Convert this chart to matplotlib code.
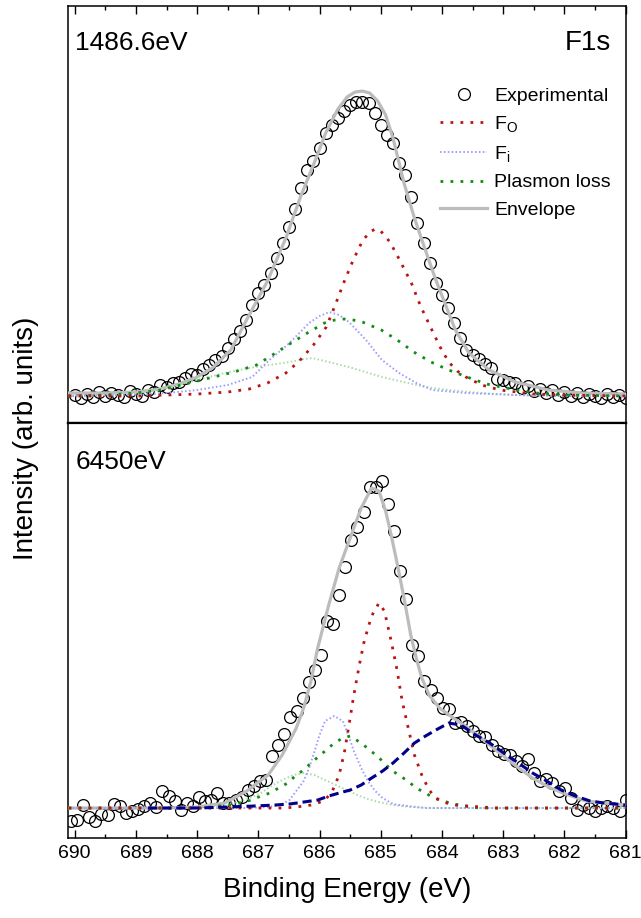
import numpy as np
import matplotlib
matplotlib.use("Agg")
import matplotlib.pyplot as plt
from matplotlib.ticker import MultipleLocator

plt.rcParams['font.family'] = ['Liberation Sans', 'DejaVu Sans']
plt.rcParams['mathtext.fontset'] = 'custom'
plt.rcParams['mathtext.rm'] = 'Liberation Sans'
plt.rcParams['mathtext.it'] = 'Liberation Sans:italic'

# ---------------- 1486.6 eV (top panel) ----------------
top_exp_E = np.linspace(690.0, 681.0, 91)
top_exp_I = [28, 25, 29, 26, 31, 27, 30, 28, 26, 32,
             29, 27, 33, 31, 38, 36, 40, 41, 45, 49,
             48, 54, 58, 63, 67, 75, 84, 92, 103, 118,
             130, 138, 150, 165, 180, 196, 214, 235, 253, 262,
             275, 290, 298, 305, 312, 318, 321, 321, 320, 310,
             298, 288, 280, 260, 248, 226, 200, 180, 160, 140,
             128, 115, 100, 85, 73, 68, 64, 59, 55, 44,
             43, 41, 40, 35, 37, 32, 34, 30, 33, 28,
             31, 27, 30, 26, 29, 27, 25, 29, 26, 28, 25]

top_env_E = [690.1, 689.5, 689.0, 688.6, 688.3, 688.0, 687.75, 687.45, 687.15, 686.85,
             686.55, 686.3, 686.1, 685.9, 685.7, 685.55, 685.42, 685.3, 685.18, 685.05,
             684.92, 684.8, 684.62, 684.45, 684.3, 684.1, 683.89, 683.78, 683.56, 683.23,
             682.8, 682.26, 681.7, 681.0]
top_env_I = [30, 30, 31, 34, 39, 46, 55, 73, 108, 142,
             185, 228, 258, 290, 314, 326, 331, 332, 330, 322,
             308, 285, 240, 205, 178, 143, 110, 93, 70, 53,
             41, 33, 30, 29]

top_fo_E = [690.1, 689.0, 688.5, 688.0, 687.5, 687.15, 686.85, 686.55, 686.33, 686.1,
            685.89, 685.75, 685.6, 685.45, 685.3, 685.18, 685.09, 685.0, 684.85, 684.7,
            684.5, 684.35, 684.18, 684.03, 683.89, 683.75, 683.61, 683.35, 683.05, 682.5,
            682.0, 681.0]
top_fo_I = [27, 27, 28, 29, 31, 34, 40, 50, 62, 78,
            96, 117, 141, 163, 182, 191, 194, 192, 181, 164,
            140, 117, 95, 76, 61, 52, 46, 38, 33, 29,
            28, 27]

top_fi_E = [690.1, 689.0, 688.5, 688.0, 687.5, 687.1, 686.82, 686.49, 686.17, 686.0,
            685.84, 685.68, 685.52, 685.24, 684.98, 684.7, 684.42, 684.16, 683.61, 682.79,
            682.0, 681.0]
top_fi_I = [27, 28, 30, 33, 38, 46, 63, 80, 100, 107,
            111, 108, 101, 83, 63, 50, 40, 33, 30, 28,
            27, 27]

top_pl_E = [690.1, 689.5, 689.0, 688.6, 688.2, 687.8, 687.4, 687.03, 686.77, 686.49,
            686.2, 685.92, 685.75, 685.6, 685.45, 685.3, 684.99, 684.73, 684.46, 684.18,
            683.89, 683.59, 683.27, 682.79, 682.47, 682.0, 681.0]
top_pl_I = [27, 28, 30, 33, 39, 45, 51, 58, 68, 79,
            90, 100, 103, 104, 103, 101, 93, 83, 71, 61,
            53, 46, 39, 33, 30, 28, 27]

top_pl2_E = [690.1, 689.5, 689.0, 688.5, 688.0, 687.55, 687.15, 686.82, 686.49, 686.25,
             686.12, 685.85, 685.52, 685.25, 684.98, 684.7, 684.42, 684.15, 683.89, 683.35,
             682.8, 682.0, 681.0]
top_pl2_I = [27, 28, 30, 35, 43, 50, 55, 58, 61, 64,
             65, 61, 56, 51, 46, 42, 38, 35, 33, 30,
             28, 27, 27]

# ---------------- 6450 eV (bottom panel) ----------------
bot_exp_E = np.linspace(690.06, 681.0, 92)
bot_exp_I = [17, 18, 33, 21, 17, 24, 23, 34, 32, 25,
             27, 29, 32, 35, 31, 47, 42, 37, 28, 35,
             32, 41, 37, 38, 45, 35, 35, 38, 41, 48,
             52, 57, 58, 82, 93, 104, 121, 127, 140, 156,
             168, 183, 217, 214, 243, 271, 298, 311, 326, 351,
             351, 357, 334, 307, 267, 239, 193, 182, 157, 148,
             140, 130, 129, 115, 116, 112, 107, 102, 101, 93,
             87, 84, 83, 77, 72, 79, 65, 57, 59, 55,
             47, 50, 40, 28, 33, 30, 27, 30, 32, 30, 27, 38]

bot_env_E = [690.1, 689.5, 689.0, 688.5, 688.01, 687.55, 687.19, 686.84, 686.61, 686.38,
             686.26, 686.14, 686.03, 685.85, 685.68, 685.5, 685.32, 685.15, 685.03, 684.92,
             684.83, 684.74, 684.62, 684.51, 684.42, 684.33, 684.21, 684.04, 683.86, 683.69,
             683.4, 683.1, 682.81, 682.52, 682.23, 681.93, 681.64, 681.35, 681.0]
bot_env_I = [30, 30, 30, 30, 31, 35, 47, 63, 83, 110,
             130, 157, 190, 233, 270, 300, 330, 350, 347, 327,
             303, 277, 240, 203, 180, 160, 143, 130, 122, 115,
             102, 87, 73, 60, 50, 43, 37, 35, 33]

bot_fo_E = [690.1, 688.0, 687.0, 686.6, 686.38, 686.14, 686.03, 685.91, 685.79, 685.68,
            685.59, 685.5, 685.44, 685.35, 685.27, 685.15, 685.03, 684.94, 684.83, 684.74,
            684.65, 684.54, 684.45, 684.33, 684.21, 684.1, 683.98, 683.8, 683.57, 683.1,
            682.0, 681.0]
bot_fo_I = [30, 30, 30, 30, 31, 33, 35, 38, 47, 63,
            87, 120, 143, 173, 197, 222, 235, 227, 197, 170,
            137, 107, 83, 63, 48, 40, 36, 33, 32, 30,
            30, 30]

bot_fi_E = [690.1, 688.0, 687.2, 686.84, 686.64, 686.49, 686.38, 686.26, 686.17, 686.08,
            686.0, 685.91, 685.76, 685.62, 685.53, 685.44, 685.32, 685.21, 685.09, 684.97,
            684.8, 684.56, 684.27, 683.0, 681.0]
bot_fi_I = [30, 30, 30, 31, 33, 38, 47, 57, 70, 87,
            103, 117, 122, 117, 103, 87, 70, 57, 47, 40,
            34, 32, 30, 30, 30]

bot_pl_E = [690.1, 688.5, 687.9, 687.66, 687.43, 687.25, 687.11, 686.96, 686.81, 686.67,
            686.52, 686.38, 686.26, 686.14, 685.91, 685.76, 685.62, 685.5, 685.32, 685.18,
            685.06, 684.94, 684.83, 684.68, 684.56, 684.42, 684.27, 684.13, 683.98, 683.8,
            683.63, 683.4, 682.0, 681.0]
bot_pl_I = [30, 30, 30, 32, 33, 36, 38, 42, 45, 50,
            55, 63, 68, 75, 87, 95, 100, 102, 95, 88,
            82, 75, 68, 62, 57, 50, 45, 40, 37, 34,
            32, 30, 30, 30]

bot_pl2_E = [690.1, 688.5, 688.07, 687.78, 687.55, 687.31, 687.14, 686.96, 686.79, 686.61,
             686.43, 686.26, 686.08, 685.91, 685.73, 685.56, 685.38, 685.21, 685.03, 684.8,
             684.51, 684.16, 681.0]
bot_pl2_I = [30, 30, 30, 31, 33, 36, 40, 45, 52, 58,
             63, 65, 63, 58, 53, 48, 43, 39, 36, 33,
             31, 30, 30]

bot_hb_E = [688.8, 688.0, 687.49, 687.08, 686.73, 686.49, 686.26, 686.03, 685.85, 685.68,
            685.5, 685.32, 685.15, 684.97, 684.8, 684.62, 684.45, 684.27, 684.1, 683.89,
            683.69, 683.45, 683.22, 682.99, 682.75, 682.52, 682.29, 682.05, 681.82, 681.58,
            681.35, 681.0]
bot_hb_I = [30, 30, 31, 32, 33, 34, 36, 38, 42, 45,
            48, 53, 60, 67, 75, 85, 95, 102, 108, 115,
            113, 103, 95, 85, 75, 65, 57, 48, 42, 37,
            35, 33]

red = '#b81414'
green = '#138c13'
lblue = '#9c9cff'
lgreen = '#a8dca8'
gray = '#bcbcbc'
navy = '#00008c'

fig = plt.figure(figsize=(6.41, 9.18), dpi=100)
ax1 = fig.add_axes([0.106, 0.5392, 0.870, 0.4542])
ax2 = fig.add_axes([0.106, 0.0871, 0.870, 0.4521])


def draw(ax, exp_E, exp_I, env_E, env_I, fo_E, fo_I, fi_E, fi_I, pl_E, pl_I, pl2_E, pl2_I):
    ax.plot(exp_E, exp_I, 'o', mfc='none', mec='black', mew=0.9, ms=8.5,
            label='Experimental', zorder=2)
    ax.plot(env_E, env_I, '-', color=gray, lw=2.3, label='Envelope', zorder=3)
    ax.plot(pl2_E, pl2_I, color=lgreen, lw=1.4, ls=(0, (0.8, 1.2)), zorder=4)
    ax.plot(fi_E, fi_I, color=lblue, lw=1.4, ls=(0, (0.8, 1.2)),
            label=r'F$_\mathrm{i}$', zorder=4)
    ax.plot(pl_E, pl_I, color=green, lw=2.0, ls=(0, (1, 2.6)),
            label='Plasmon loss', zorder=5)
    ax.plot(fo_E, fo_I, color=red, lw=2.0, ls=(0, (1, 2.6)),
            label=r'F$_\mathrm{O}$', zorder=5)


draw(ax1, top_exp_E, top_exp_I, top_env_E, top_env_I, top_fo_E, top_fo_I,
     top_fi_E, top_fi_I, top_pl_E, top_pl_I, top_pl2_E, top_pl2_I)
draw(ax2, bot_exp_E, bot_exp_I, bot_env_E, bot_env_I, bot_fo_E, bot_fo_I,
     bot_fi_E, bot_fi_I, bot_pl_E, bot_pl_I, bot_pl2_E, bot_pl2_I)
ax2.plot(bot_hb_E, bot_hb_I, color=navy, lw=2.2, ls=(0, (3, 1.6)), zorder=5)

ax1.set_ylim(0, 417)
ax2.set_ylim(0, 415)
for ax in (ax1, ax2):
    ax.set_xlim(690.11, 681.0)
    ax.set_yticks([])
    ax.xaxis.set_major_locator(MultipleLocator(1))
    ax.xaxis.set_minor_locator(MultipleLocator(0.5))
    for s in ax.spines.values():
        s.set_linewidth(1.1)
ax1.spines['bottom'].set_linewidth(1.6)
ax2.spines['top'].set_linewidth(1.6)

ax1.tick_params(axis='x', which='both', direction='in', top=True, bottom=False,
                labeltop=False, labelbottom=False, width=1)
ax2.tick_params(axis='x', which='both', direction='in', top=False, bottom=True,
                labelbottom=True, width=1, labelsize=14, pad=5)
for ax in (ax1, ax2):
    ax.tick_params(axis='x', which='major', length=5.5)
    ax.tick_params(axis='x', which='minor', length=3)

ax1.text(0.013, 0.912, '1486.6eV', transform=ax1.transAxes, fontsize=19,
         ha='left', va='center')
ax1.text(0.973, 0.912, 'F1s', transform=ax1.transAxes, fontsize=20,
         ha='right', va='center')
ax2.text(0.013, 0.906, '6450eV', transform=ax2.transAxes, fontsize=19,
         ha='left', va='center')

h, l = ax1.get_legend_handles_labels()
order = ['Experimental', r'F$_\mathrm{O}$', r'F$_\mathrm{i}$', 'Plasmon loss', 'Envelope']
hl = dict(zip(l, h))
ax1.legend([hl[k] for k in order], order, loc='upper left',
           bbox_to_anchor=(0.668, 0.806), frameon=False, fontsize=14,
           handlelength=2.4, handletextpad=0.35, labelspacing=0.5,
           borderpad=0, borderaxespad=0, numpoints=1)

fig.text(0.04, 0.522, 'Intensity (arb. units)', rotation=90, fontsize=20,
         ha='center', va='center')
fig.text(0.542, 0.03, 'Binding Energy (eV)', fontsize=20, ha='center', va='center')

assert len(top_exp_I) == len(top_exp_E)
assert len(bot_exp_I) == len(bot_exp_E)

fig.savefig('out.png', dpi=100)
